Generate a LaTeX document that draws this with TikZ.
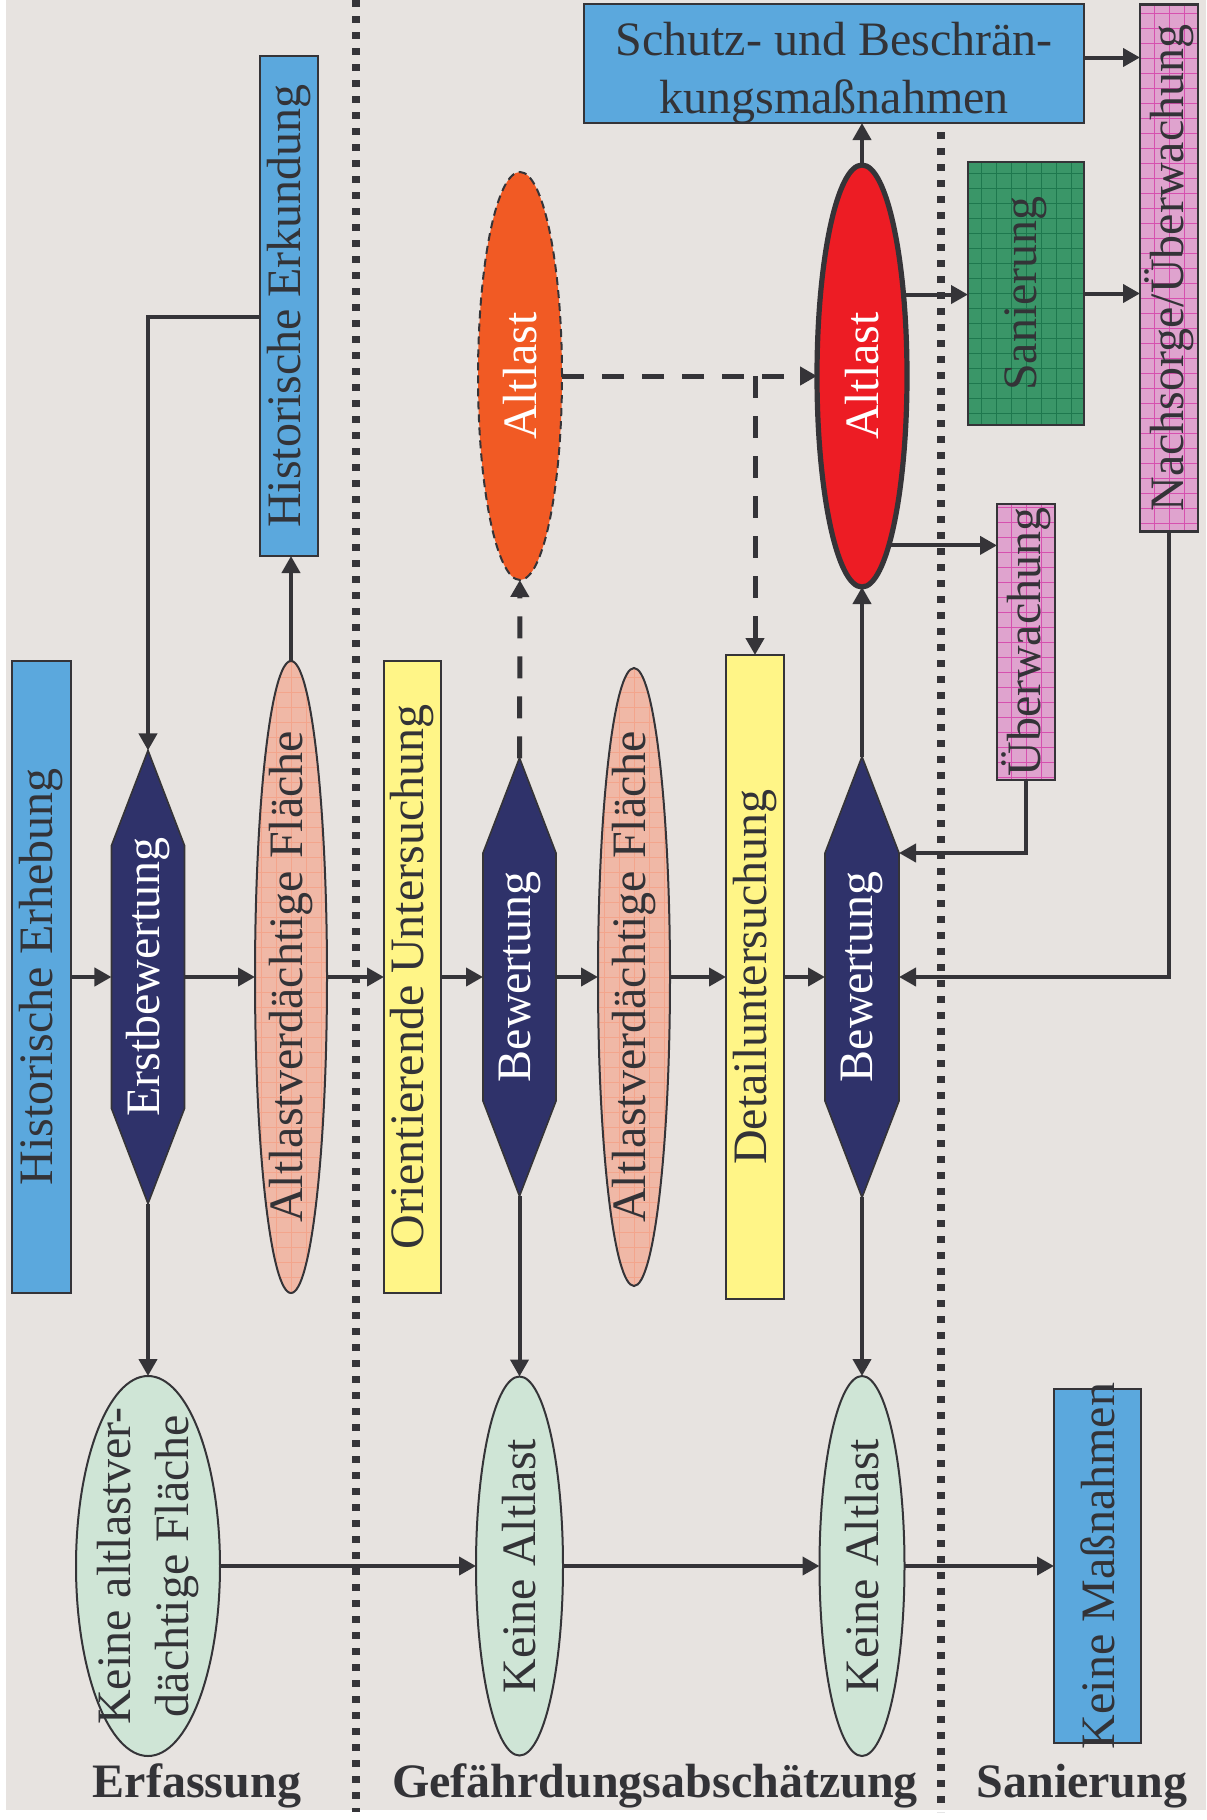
\documentclass[tikz,border=0pt]{standalone}
\usepackage{fontspec}
\setmainfont{Liberation Serif}
\usetikzlibrary{shapes.geometric,shapes.symbols,arrows.meta}

\definecolor{bgc}{RGB}{231,227,224}
\definecolor{lin}{RGB}{53,52,56}
\definecolor{txt}{RGB}{51,51,55}
\definecolor{blau}{RGB}{91,168,221}
\definecolor{navy}{RGB}{47,50,106}
\definecolor{lachs}{RGB}{240,184,166}
\definecolor{lachsgrid}{RGB}{243,165,140}
\definecolor{gelb}{RGB}{255,245,135}
\definecolor{orng}{RGB}{241,90,36}
\definecolor{rot}{RGB}{237,28,36}
\definecolor{gruen}{RGB}{58,150,104}
\definecolor{gruengrid}{RGB}{30,120,78}
\definecolor{rosa}{RGB}{223,163,206}
\definecolor{rosagrid}{RGB}{214,80,175}
\definecolor{mint}{RGB}{207,229,214}

% senkrechter Text, ohne Einfluss auf die Knotengroesse
\newcommand{\vtext}[1]{\makebox[0pt]{\smash{\rotatebox{90}{\makebox[0pt]{#1}}}}}

\begin{document}
\begin{tikzpicture}[x=0.5pt, y=-0.5pt,
  every node/.style={inner sep=0pt, outer sep=0pt, text=txt, font=\fontsize{24}{29}\selectfont},
  box/.style={rectangle, draw=lin, line width=1.2pt, fill=#1},
  hexa/.style={signal, signal to=north and south, signal pointer angle=42, draw=lin, line width=0.8pt, fill=navy, text=white},
  oval/.style={ellipse, draw=lin, line width=1pt, fill=#1},
  gridfill/.style={path picture={\draw[#1, line width=0.4pt, step=7.5pt] (path picture bounding box.south west) grid (path picture bounding box.north east);}},
  arr/.style={draw=lin, line width=2pt, -{Triangle[length=8.5pt, width=9pt]}},
  dsh/.style={dash pattern=on 11pt off 9pt, line width=2.5pt},
  trenner/.style={draw=lin, line width=3.6pt, dash pattern=on 3.6pt off 4.4pt},
  phase/.style={font=\fontsize{24}{29}\selectfont\bfseries, anchor=base}]
  \fill[white] (0,0) rectangle (1206,1820);
  \useasboundingbox (0,0) rectangle (1206,1820);
  \fill[bgc] (6,0) rectangle (1206,1810);
  \draw[trenner] (356,0) -- (356,1812);
  \draw[trenner] (941,132) -- (941,1812);

  % Erfassung
  \node[box=blau, minimum width=29.5pt, minimum height=316pt] (hisErh) at (41.5,977) {\vtext{Historische Erhebung}};
  \node[hexa, minimum width=36.5pt, minimum height=131.5pt] (erstBew) at (148,977) {\vtext{Erstbewertung}};
  \node[oval=lachs, gridfill=lachsgrid, minimum width=36pt, minimum height=316pt] (avf1) at (291,977) {\vtext{Altlastverdächtige Fläche}};
  \node[box=blau, minimum width=29pt, minimum height=250pt] (hisErk) at (289,306) {\vtext{Historische Erkundung}};
  \node[oval=mint, minimum width=72pt, minimum height=190pt] (keineAVF) at (148,1566) {\vtext{\begin{tabular}{@{}c@{}}Keine altlastver-\\dächtige Fläche\end{tabular}}};

  % Gefaehrdungsabschaetzung
  \node[box=gelb, minimum width=28.5pt, minimum height=316pt] (oriU) at (412.5,977) {\vtext{Orientierende Untersuchung}};
  \node[hexa, minimum width=36.5pt, minimum height=124pt] (bew1) at (519.5,977) {\vtext{Bewertung}};
  \node[oval=orng, dash pattern=on 4pt off 2.5pt, minimum width=42pt, minimum height=204pt, text=white] (alt1) at (520,376) {\vtext{Altlast}};
  \node[oval=lachs, gridfill=lachsgrid, minimum width=36pt, minimum height=309pt] (avf2) at (634,977) {\vtext{Altlastverdächtige Fläche}};
  \node[box=gelb, minimum width=29pt, minimum height=322pt] (detU) at (755,977) {\vtext{Detailuntersuchung}};
  \node[hexa, minimum width=37pt, minimum height=124pt] (bew2) at (862,977) {\vtext{Bewertung}};
  \node[oval=rot, line width=2.6pt, minimum width=45pt, minimum height=211pt, text=white] (alt2) at (862,376) {\vtext{Altlast}};
  \node[box=blau, minimum width=250pt, minimum height=59.5pt] (schutz) at (834,63.5) {\raisebox{-11pt}[0pt][0pt]{\begin{tabular}{@{}c@{}}Schutz- und Beschrän-\\kungsmaßnahmen\end{tabular}}};
  \node[oval=mint, minimum width=43.5pt, minimum height=189.5pt] (keineAL1) at (519.5,1566) {\vtext{Keine Altlast}};
  \node[oval=mint, minimum width=42.5pt, minimum height=190pt] (keineAL2) at (862,1566) {\vtext{Keine Altlast}};

  % Sanierung
  \node[box=gruen, gridfill=gruengrid, minimum width=58pt, minimum height=131.5pt] (sanier) at (1026,293.5) {\vtext{Sanierung}};
  \node[box=rosa, gridfill=rosagrid, minimum width=29pt, minimum height=138pt] (ueberw) at (1026,642) {\vtext{Überwachung}};
  \node[box=rosa, gridfill=rosagrid, minimum width=29pt, minimum height=263.5pt] (nachs) at (1169,268) {\vtext{Nachsorge/Überwachung}};
  \node[box=blau, minimum width=43.5pt, minimum height=177pt] (keineM) at (1097.5,1566) {\vtext{Keine Maßnahmen}};

  % Hauptlinie
  \draw[arr] (hisErh) -- (erstBew);
  \draw[arr] (erstBew) -- (avf1);
  \draw[arr] (avf1) -- (oriU);
  \draw[arr] (oriU) -- (bew1);
  \draw[arr] (bew1) -- (avf2);
  \draw[arr] (avf2) -- (detU);
  \draw[arr] (detU) -- (bew2);
  \draw[arr] (avf1.north) -- (avf1.north |- hisErk.south);
  \draw[arr] ([yshift=-5.5pt]hisErk.west) -| (erstBew.north);
  \draw[arr] (erstBew) -- (keineAVF);
  \draw[arr] (bew1) -- (keineAL1);
  \draw[arr] (bew2) -- (keineAL2);
  \draw[arr, dsh] (bew1) -- (alt1);
  \draw[arr, dsh] (alt1) -- (alt2);
  \draw[arr, dsh] (alt1.east -| detU.north) -- (detU);
  \draw[arr] (bew2) -- (alt2);
  \draw[arr] (alt2) -- (alt2 |- schutz.south);
  \draw[arr] (alt2.63) -- (alt2.63 -| sanier.west);
  \draw[arr] (alt2.-81) -- (alt2.-81 -| ueberw.west);
  \draw[arr] ([yshift=3pt]schutz.east) -- ([yshift=3pt]schutz.east -| nachs.west);
  \draw[arr] (sanier) -- (sanier -| nachs.west);
  \draw[arr] (ueberw.south) |- ([yshift=62pt]bew2.east);
  \draw[arr] (nachs.south) |- (bew2.east);
  \draw[arr] (keineAVF) -- (keineAL1);
  \draw[arr] (keineAL1) -- (keineAL2);
  \draw[arr] (keineAL2) -- (keineM);

  \node[phase] (erf) at (197,1797) {Erfassung};
  \node[phase] (gef) at (655,1797) {Gefährdungsabschätzung};
  \node[phase] (san) at (1082,1797) {Sanierung};
\end{tikzpicture}
\end{document}
